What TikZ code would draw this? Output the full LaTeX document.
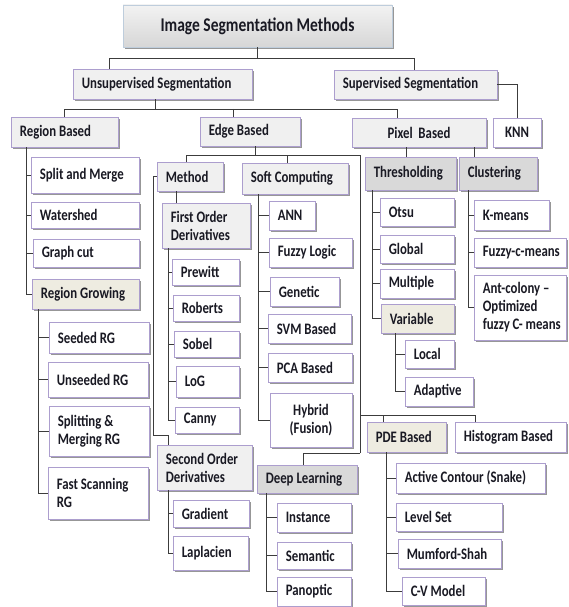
\documentclass[tikz,border=0pt]{standalone}
\usepackage{fontspec}
\setmainfont{Carlito}[FakeStretch=0.8]
\usetikzlibrary{shadows}
\definecolor{lav}{RGB}{172,158,206}
\definecolor{lg}{RGB}{240,240,240}
\definecolor{dg}{RGB}{217,217,217}
\definecolor{beige}{RGB}{238,236,225}
\definecolor{linec}{RGB}{60,60,60}
\definecolor{txt}{RGB}{25,25,35}
\definecolor{tedge}{RGB}{190,205,220}
\tikzset{
  box/.style={draw=lav, line width=0.8pt, fill=white, inner sep=0pt,
    drop shadow={shadow xshift=1.6pt, shadow yshift=-1.6pt, fill=black!45, opacity=0.9}},
  lbl/.style={inner sep=0pt, align=left, text=txt, font=\fontsize{16}{18}\selectfont\bfseries},
  lgf/.style={fill=lg},
  dgf/.style={fill=dg},
  bgf/.style={fill=beige},
  ctr/.style={align=center},
  titlebox/.style={draw=tedge, top color=gray!10, bottom color=gray!32},
  titlefont/.style={font=\fontsize{19.4}{22}\selectfont\bfseries},
  conn/.style={draw=linec, line width=0.9pt}
}
\newcommand\mybox[7]{%
  \pgfmathsetmacro\mbw{#4-#2}%
  \pgfmathsetmacro\mbh{#5-#3}%
  \pgfmathsetmacro\mbx{(#2+#4)/2}%
  \pgfmathsetmacro\mby{(#3+#5)/2}%
  \node[box,#6,minimum width=\mbw pt,minimum height=\mbh pt] (#1) at (\mbx,\mby) {};
  \node[lbl,anchor=west] (#1-t) at ([xshift=9pt]#1.west) {#7};}
\newcommand\myboxc[8]{%
  \pgfmathsetmacro\mbw{#4-#2}%
  \pgfmathsetmacro\mbh{#5-#3}%
  \pgfmathsetmacro\mbx{(#2+#4)/2}%
  \pgfmathsetmacro\mby{(#3+#5)/2}%
  \node[box,#6,minimum width=\mbw pt,minimum height=\mbh pt] (#1) at (\mbx,\mby) {};
  \node[lbl,ctr,#8] (#1-t) at (#1.center) {#7};}
\begin{document}
\begin{tikzpicture}[x=1pt,y=-1pt]
\useasboundingbox (0,0) rectangle (569,607);
% boxes
\myboxc{title}{123}{5}{392}{47}{titlebox}{Image Segmentation Methods}{titlefont}
\mybox{uns}{73}{69}{252}{99}{lgf}{Unsupervised Segmentation}
\mybox{sup}{334}{70}{497}{99}{lgf}{Supervised Segmentation}
\myboxc{knn}{493}{118}{541}{147}{}{KNN}{}
\mybox{reg}{11}{117}{118}{147}{lgf}{Region Based}
\mybox{edge}{200}{117}{300}{146}{lgf}{Edge Based}
\myboxc{pix}{352}{118}{486}{147}{lgf}{Pixel\ \ Based}{}
\mybox{sm}{31}{157}{139}{193}{}{Split and Merge}
\mybox{ws}{31}{202}{139}{228}{}{Watershed}
\mybox{gc}{33}{239}{139}{267}{}{Graph cut}
\mybox{rg}{32}{279}{139}{309}{bgf}{Region Growing}
\mybox{srg}{49}{322}{149}{353}{}{Seeded RG}
\mybox{urg}{48}{362}{148}{397}{}{Unseeded RG}
\mybox{smrg}{49}{406}{149}{456}{}{Splitting \&\\Merging RG}
\mybox{fsrg}{48}{467}{148}{519}{}{Fast Scanning\\RG}
\mybox{method}{157}{162}{223}{191}{lgf}{Method}
\mybox{fo}{162}{203}{250}{248}{lgf}{First Order\\ Derivatives}
\mybox{pre}{172}{259}{239}{285}{}{Prewitt}
\mybox{rob}{173}{295}{239}{321}{}{Roberts}
\mybox{sob}{174}{331}{239}{357}{}{Sobel}
\mybox{lgn}{176}{366}{239}{397}{}{LoG}
\mybox{can}{175}{407}{239}{433}{}{Canny}
\mybox{so}{157}{445}{252}{490}{lgf}{Second Order\\Derivatives}
\mybox{grad}{173}{500}{249}{527}{}{Gradient}
\mybox{lap}{173}{536}{248}{570}{}{Laplacien}
\mybox{soft}{242}{163}{348}{194}{lgf}{Soft Computing}
\mybox{ann}{269}{201}{315}{230}{}{ANN}
\mybox{fl}{269}{238}{352}{267}{}{Fuzzy Logic}
\mybox{gen}{270}{277}{339}{306}{}{Genetic}
\mybox{svm}{268}{314}{351}{343}{}{SVM Based}
\mybox{pca}{268}{353}{352}{382}{}{PCA Based}
\myboxc{hyb}{270}{393}{352}{447}{}{Hybrid\\(Fusion)}{}
\mybox{thr}{365}{157}{456}{190}{dgf}{Thresholding}
\mybox{clu}{459}{157}{537}{190}{dgf}{Clustering}
\mybox{otsu}{380}{198}{454}{226}{}{Otsu}
\mybox{glob}{380}{235}{454}{263}{}{Global}
\mybox{mult}{380}{269}{454}{298}{}{Multiple}
\mybox{var}{381}{304}{454}{333}{bgf}{Variable}
\mybox{loc}{405}{340}{454}{368}{}{Local}
\mybox{adap}{405}{377}{473}{406}{}{Adaptive}
\mybox{km}{474}{200}{549}{230}{}{K-means}
\mybox{fcm}{474}{238}{566}{267}{}{Fuzzy-c-means}
\mybox{ant}{474}{275}{566}{340}{}{Ant-colony –\\Optimized\\fuzzy C- means}
\mybox{pde}{367}{422}{446}{452}{bgf}{PDE Based}
\mybox{hist}{455}{422}{566}{452}{}{Histogram Based}
\mybox{ac}{396}{463}{545}{493}{}{Active Contour (Snake)}
\mybox{ls}{396}{503}{502}{531}{}{Level Set}
\mybox{ms}{398}{539}{501}{568}{}{Mumford-Shah}
\mybox{cvm}{402}{577}{485}{605}{}{C-V Model}
\mybox{dl}{257}{465}{357}{493}{dgf}{Deep Learning}
\mybox{inst}{277}{503}{351}{532}{}{Instance}
\mybox{sem}{277}{542}{351}{569}{}{Semantic}
\mybox{pan}{277}{577}{351}{606}{}{Panoptic}
% top level
\coordinate (tl) at (109,58); \coordinate (tr) at (414,58);
\draw[conn] (title.south) -- (title.south |- tl);
\draw[conn] (tl |- uns.north) -- (tl) -- (tr) -- (tr |- sup.north);
\draw[conn] (sup.east) -| (knn.north);
\coordinate (ub) at (155,109); \coordinate (ul) at (64,109);
\coordinate (ue) at (233,109); \coordinate (ur) at (397,109);
\draw[conn] (ub |- uns.south) -- (ub);
\draw[conn] (ul |- reg.north) -- (ul) -- (ur) -- (ur |- pix.north);
\draw[conn] (ue) -- (ue |- edge.north);
% region based
\coordinate (rv) at (26,0);
\draw[conn] (rv |- reg.south) |- (rg.west);
\foreach \n in {sm,ws,gc} \draw[conn] (rv |- \n.west) -- (\n.west);
\coordinate (gv) at (38,0);
\draw[conn] (gv |- rg.south) |- (fsrg.west);
\foreach \n in {srg,urg,smrg} \draw[conn] (gv |- \n.west) -- (\n.west);
% edge based
\coordinate (eb) at (255,155); \coordinate (el) at (186,155);
\coordinate (es) at (287,155); \coordinate (er) at (360,155);
\draw[conn] (eb |- edge.south) -- (eb);
\draw[conn] (el |- method.north) -- (el) -- (er);
\draw[conn] (es) -- (es |- soft.north);
\coordinate (e415) at (360,415); \coordinate (e453) at (360,453);
\draw[conn] (er) -- (e453);
\coordinate (hx) at (475,415); \coordinate (px) at (383,415);
\draw[conn] (e415) -- (hx) -- (hx |- hist.north);
\draw[conn] (px) -- (px |- pde.north);
\coordinate (dx) at (303,453);
\draw[conn] (e453) -- (dx) -- (dx |- dl.north);
% method
\coordinate (m1) at (153,435); \coordinate (m2) at (168,435);
\draw[conn] (method.west) -| (m1) -- (m2) -- (m2 |- so.north);
\coordinate (m3) at (176,0);
\draw[conn] (m3 |- method.south) -- (m3 |- fo.north);
\coordinate (fv) at (168,0);
\draw[conn] (fv |- fo.south) |- (can.west);
\foreach \n in {pre,rob,sob,lgn} \draw[conn] (fv |- \n.west) -- (\n.west);
\draw[conn] (fv |- so.south) |- (lap.west);
\draw[conn] (fv |- grad.west) -- (grad.west);
% soft computing
\coordinate (sv) at (258,0);
\draw[conn] (sv |- soft.south) |- (hyb.west);
\foreach \n in {ann,fl,gen,svm,pca} \draw[conn] (sv |- \n.west) -- (\n.west);
% pixel based
\coordinate (p1) at (406,0); \coordinate (p2) at (474,0);
\draw[conn] (p1 |- pix.south) -- (p1 |- thr.north);
\draw[conn] (p2 |- pix.south) -- (p2 |- clu.north);
\coordinate (tv) at (372,0);
\draw[conn] (tv |- thr.south) |- (var.west);
\foreach \n in {otsu,glob,mult} \draw[conn] (tv |- \n.west) -- (\n.west);
\coordinate (vv) at (395,0);
\draw[conn] (vv |- var.south) |- (adap.west);
\draw[conn] (vv |- loc.west) -- (loc.west);
\coordinate (clv) at (468,0);
\draw[conn] (clv |- clu.south) |- (ant.west);
\foreach \n in {km,fcm} \draw[conn] (clv |- \n.west) -- (\n.west);
% pde
\coordinate (pdv) at (386,0);
\draw[conn] (pdv |- pde.south) |- (cvm.west);
\foreach \n in {ac,ls,ms} \draw[conn] (pdv |- \n.west) -- (\n.west);
% deep learning
\coordinate (dlv) at (266,0);
\draw[conn] (dlv |- dl.south) |- (pan.west);
\foreach \n in {inst,sem} \draw[conn] (dlv |- \n.west) -- (\n.west);
\end{tikzpicture}
\end{document}
